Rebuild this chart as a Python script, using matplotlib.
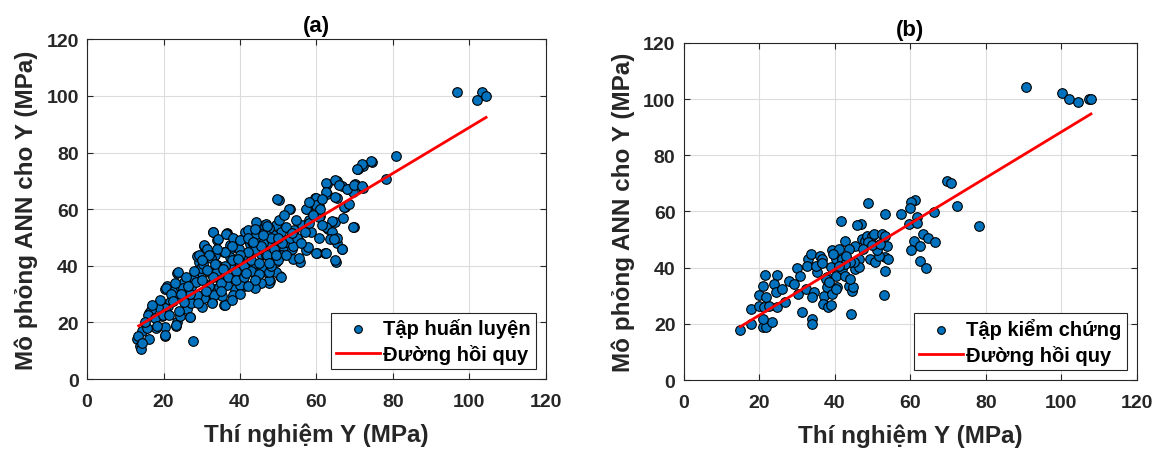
import numpy as np
import matplotlib
matplotlib.use('Agg')
import matplotlib.pyplot as plt

plt.rcParams['font.family'] = ['Liberation Sans', 'DejaVu Sans']
plt.rcParams['font.weight'] = 'bold'

# (a) training set
x_train = [96.8, 103.3, 102.1, 104.4, 80.9, 74.5, 72.3, 70.9, 78.3, 74.2, 72.0, 70.7,
           13.1, 13.9, 14.1, 16.1, 15.3, 14.4, 18.1, 20.3, 20.5, 23.3, 23.5, 16.3, 18.3,
           27.7, 20.3, 20.9, 23.4, 21.2, 19.6, 24.4, 26.1, 27.0, 24.4, 25.7, 27.5, 26.1,
           27.9, 29.2, 30.1, 32.7, 35.7, 30.5, 33.1, 35.3, 29.2, 30.5, 30.9, 28.8, 32.9,
           34.0, 36.6, 41.0, 42.7, 46.2, 47.0, 50.1, 53.2, 57.5, 59.7, 60.6, 61.0, 62.7,
           65.3, 62.7, 65.3, 66.7, 68.4, 70.1, 69.7, 72.3, 67.5, 69.9, 64.9, 63.1, 65.3,
           66.7, 65.2, 60.1, 62.3, 55.8, 54.0, 52.3, 50.5, 47.9, 47.5, 43.6, 41.0, 38.8,
           32.9, 34.2, 36.6, 30.7, 31.4, 29.3, 23.7, 20.7, 22.8, 24.5, 27.1, 25.4, 28.0,
           29.7, 31.8, 30.4, 33.6, 35.7, 37.4, 39.1, 41.3, 43.4, 46.0, 46.4, 49.4, 50.7,
           51.6, 50.3, 49.4, 47.7, 46.9, 44.3, 41.7, 40.0, 38.3, 36.6, 34.8, 33.1, 32.7,
           36.1, 30.6, 28.8, 27.1, 25.4, 23.7, 21.8, 20.3, 18.5, 16.8, 16.0, 17.7, 19.8,
           21.5, 23.2, 24.0, 26.9, 20.3, 18.2, 15.6, 13.4, 14.3, 15.1, 37.4, 40.0, 42.1,
           45.6, 47.7, 49.4, 45.6, 43.9, 50.7, 38.3, 34.4, 28.4, 31.4, 34.0, 35.7, 32.4,
           37.4, 42.6, 44.7, 48.6, 46.9, 44.3, 49.8, 52.9, 57.2, 59.8, 59.8, 62.4, 65.0,
           62.4, 65.0, 65.9, 68.1, 69.8, 72.0, 67.2, 69.7, 64.2, 62.4, 64.2, 65.5, 66.6,
           65.0, 62.4, 59.8, 57.2, 55.5, 54.2, 56.3, 58.6, 60.7, 58.1, 60.7, 61.6, 52.0,
           50.3, 47.7, 46.8, 49.4, 52.0, 53.7, 51.1, 48.5, 45.9, 43.3, 41.6, 39.8, 37.4,
           36.3, 38.1, 42.0, 44.2, 47.2, 51.5, 54.6, 44.9, 43.2, 55.5, 57.7, 46.8, 39.8,
           47.7, 58.0, 61.0, 61.5, 63.6, 64.5, 67.0, 68.5,
           39, 41, 43, 45, 47, 44, 42, 40, 38, 36, 34, 33, 35, 37, 39, 41, 43, 45, 48, 50,
           52, 54, 53, 51, 49, 46, 48, 50, 55, 57, 56, 58, 59, 44, 42, 40, 38, 35, 32, 30,
           28, 26, 31, 29, 27, 25, 23, 22, 19, 17, 36, 38, 40, 42, 44, 46, 34, 32, 30,
           31.5, 33.5, 35.5, 39.5, 41.5, 45.5, 49.5, 53.5, 26.5, 24.5, 22.5, 43.5, 47.5]
y_train = [101.5, 101.5, 98.5, 100.0, 78.7, 76.7, 75.3, 74.1, 70.6, 76.9, 75.8, 74.3,
           14.1, 11.8, 10.6, 14.1, 17.9, 17.0, 18.0, 15.3, 18.5, 18.8, 20.0, 23.5, 26.1,
           13.3, 31.8, 32.9, 37.3, 25.9, 22.4, 22.4, 24.7, 21.8, 29.4, 30.6, 28.2, 34.1,
           36.5, 37.6, 25.3, 27.1, 26.1, 29.4, 31.8, 29.4, 41.2, 47.1, 46.5, 43.5, 51.8,
           49.2, 51.5, 50.0, 51.8, 52.9, 50.6, 63.3, 60.0, 60.0, 64.1, 61.2, 57.6, 68.8,
           70.0, 65.3, 64.1, 68.2, 67.1, 68.8, 65.9, 67.6, 60.8, 53.8, 55.5, 52.9, 48.2,
           45.9, 41.5, 44.7, 44.5, 41.2, 42.4, 45.3, 36.5, 34.7, 34.1, 33.5, 32.9, 31.8,
           51.9, 49.6, 51.3, 47.5, 46.1, 43.7, 37.9, 32.0, 31.1, 32.0, 32.6, 34.4, 35.6,
           39.1, 37.9, 40.8, 43.7, 44.9, 46.1, 48.4, 51.9, 52.5, 51.9, 54.3, 54.3, 51.9,
           45.5, 43.7, 41.4, 35.0, 37.9, 40.2, 37.3, 33.2, 35.6, 33.2, 35.0, 29.7, 26.8,
           26.2, 28.5, 29.7, 26.8, 27.4, 29.1, 27.4, 25.0, 25.6, 24.4, 22.7, 21.5, 22.7,
           22.7, 19.2, 23.9, 22.1, 15.7, 18.6, 18.0, 15.1, 12.7, 20.3, 40.2, 42.0, 43.7,
           44.3, 47.8, 37.9, 33.8, 32.0, 36.1, 29.7, 32.6, 34.4, 33.2, 40.2, 37.9, 42.6,
           43.1, 47.8, 49.6, 50.8, 54.9, 55.4, 63.5, 60.2, 60.2, 63.8, 61.4, 69.4, 70.2,
           66.1, 64.4, 68.5, 67.3, 68.7, 68.2, 60.8, 53.8, 55.8, 53.8, 52.0, 49.7, 46.1,
           42.0, 44.7, 44.7, 45.5, 48.7, 52.6, 54.4, 52.0, 49.7, 56.1, 57.3, 54.4, 53.8,
           56.1, 53.2, 50.8, 49.1, 48.5, 46.1, 43.8, 42.6, 39.1, 40.8, 43.8, 46.1, 47.3,
           51.4, 49.7, 52.6, 51.4, 54.1, 57.9, 56.1, 46.1, 48.5, 42.6, 46.7, 43.8, 41.4,
           37.9, 62.4, 60.0, 63.5, 49.4, 49.4, 57.0, 62.0,
           38, 40, 42, 41, 44, 46, 45, 44, 42, 40, 38, 36, 34, 36, 35, 36, 38, 37, 40, 42,
           44, 47, 50, 48, 46, 48, 50, 50, 50, 52, 48, 55, 58, 35, 33, 30, 28, 31, 33, 35,
           38, 36, 31, 27, 30, 32, 34, 30, 28, 26, 45, 47, 49, 50, 53, 51, 46, 44, 42,
           38.5, 40.5, 39.0, 42.5, 37.5, 47.0, 44.0, 51.5, 33.0, 30.0, 27.5, 48.5, 41.0]
fit_a_x = [13.5, 104.4]
fit_a_y = [18.8, 92.4]

# (b) validation set
x_test = [90.6, 100.2, 102.0, 104.4, 107.3, 108.0, 69.8, 70.9, 72.4, 78.3, 66.3, 61.2,
          60.2, 59.9, 57.5, 53.3, 48.7, 41.7, 46.9, 46.0, 61.9, 59.6, 61.7, 63.4, 64.7,
          66.5, 60.9, 62.5, 60.3, 62.7, 64.1, 53.3, 53.1, 44.3, 33.9, 33.9, 31.2, 15.0,
          17.8, 17.8, 20.9, 21.8, 23.3, 20.9, 20.0, 21.3, 22.6, 24.8, 20.0, 21.8, 20.9,
          21.5, 24.6, 23.8, 24.4, 26.1, 26.8, 27.9, 29.2, 30.1, 30.9, 30.3, 32.3, 33.0,
          33.6, 32.7, 34.5, 34.0, 35.3, 36.2, 36.7, 37.1, 36.8, 38.2, 38.9, 38.0, 39.3,
          38.0, 38.9, 39.3, 40.2, 41.0, 40.6, 40.2, 41.9, 42.8, 42.8, 43.7, 44.5, 44.9,
          44.1, 45.4, 45.4, 46.3, 47.2, 48.1, 48.5, 49.8, 50.3, 48.9, 49.4, 50.7, 46.3,
          52.4, 53.3, 53.8, 53.3, 54.2, 51.6, 51.1, 45.0, 44.1, 43.7, 41.9, 42.8, 41.0,
          37.6, 38.4, 40.2, 34.9, 36.5, 39.5, 43.0, 47.5, 50.0, 52.0]
y_test = [104.2, 102.2, 100.1, 99.1, 100.1, 100.1, 71.0, 70.0, 62.1, 54.7, 59.7, 64.1,
          63.3, 61.3, 59.0, 59.0, 63.0, 56.7, 55.6, 55.0, 57.9, 55.6, 55.9, 51.8, 50.6,
          49.0, 49.4, 47.6, 46.3, 42.3, 39.8, 38.9, 30.3, 23.5, 21.7, 19.9, 24.1, 17.9,
          25.3, 19.9, 18.8, 18.8, 20.8, 21.7, 26.5, 25.9, 26.5, 25.9, 30.4, 29.4, 33.4,
          37.5, 37.5, 34.2, 31.2, 32.4, 27.7, 35.4, 34.2, 39.9, 37.2, 30.6, 32.4, 43.1,
          44.9, 40.7, 31.2, 29.4, 38.3, 44.3, 43.0, 30.0, 27.1, 25.9, 26.7, 33.0, 30.6,
          36.6, 40.1, 46.1, 43.1, 46.6, 33.0, 37.2, 39.5, 49.6, 37.2, 33.6, 31.8, 33.0,
          36.0, 39.5, 47.8, 43.1, 50.2, 49.6, 51.4, 51.4, 52.0, 49.0, 43.1, 41.9, 40.1,
          52.0, 51.4, 47.8, 43.7, 43.1, 44.3, 46.1, 42.0, 41.9, 46.6, 43.1, 41.3, 40.7,
          36.0, 34.8, 32.4, 40.7, 41.5, 45.0, 44.0, 46.5, 48.0, 48.5]
fit_b_x = [15.0, 107.9]
fit_b_y = [19.0, 94.7]

fig = plt.figure(figsize=(11.61, 4.52), dpi=100)
ax1 = fig.add_axes([0.075, 0.159, 0.395, 0.752])
ax2 = fig.add_axes([0.589, 0.157, 0.390, 0.746])


def draw(ax, x, y, fx, fy, label, title):
    ax.scatter(x, y, s=48, c='#0072BD', edgecolors='black', linewidths=0.8,
               label=label, zorder=3)
    ax.plot(fx, fy, color='red', lw=2, label='Đường hồi quy', zorder=4)
    ax.set_xlim(0, 120)
    ax.set_ylim(0, 120)
    ax.set_xticks(np.arange(0, 121, 20))
    ax.set_yticks(np.arange(0, 121, 20))
    ax.grid(True, color='#dcdcdc', lw=0.8)
    ax.set_axisbelow(True)
    ax.tick_params(direction='in', top=True, right=True, labelsize=14,
                   colors='#262626', length=4)
    ax.tick_params(axis='x', pad=10)
    ax.tick_params(axis='y', pad=6)
    for s in ax.spines.values():
        s.set_color('#262626')
        s.set_linewidth(0.8)
    ax.set_xlabel('Thí nghiệm Y (MPa)', fontsize=17.5, fontweight='bold',
                  color='#262626', labelpad=9)
    ax.set_ylabel('Mô phỏng ANN cho Y (MPa)', fontsize=17.5, fontweight='bold',
                  color='#262626', labelpad=6)
    ax.set_title(title, fontsize=16, fontweight='bold', pad=6)
    leg = ax.legend(loc='lower right', fontsize=14.5, handlelength=2.2,
                    handletextpad=0.15, borderpad=0.25, labelspacing=0.3,
                    markerscale=0.8, fancybox=False, framealpha=1,
                    edgecolor='#262626', borderaxespad=0.5)
    leg.get_frame().set_linewidth(0.8)


draw(ax1, x_train, y_train, fit_a_x, fit_a_y, 'Tập huấn luyện', '(a)')
draw(ax2, x_test, y_test, fit_b_x, fit_b_y, 'Tập kiểm chứng', '(b)')

fig.savefig('out.png', dpi=100)
